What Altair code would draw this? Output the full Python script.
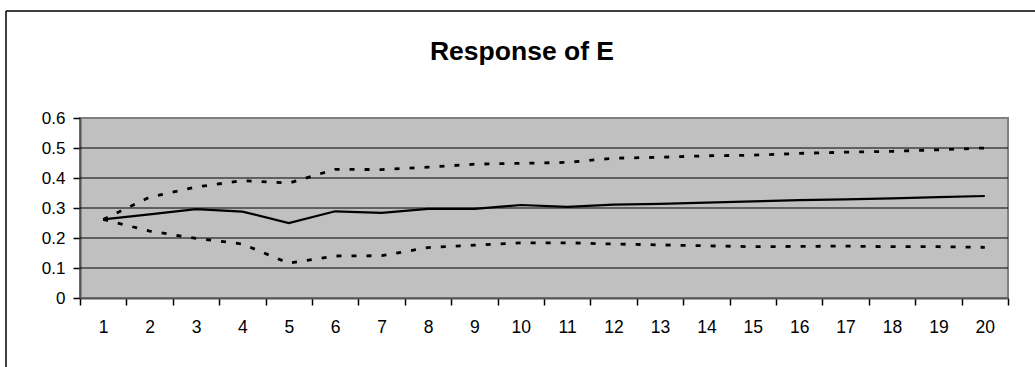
import altair as alt
import pandas as pd

periods = list(range(1, 21))
response = [0.262, 0.279, 0.296, 0.288, 0.250, 0.289, 0.284, 0.297, 0.297, 0.310,
            0.304, 0.311, 0.314, 0.318, 0.322, 0.326, 0.329, 0.332, 0.336, 0.340]
upper = [0.262, 0.336, 0.370, 0.391, 0.383, 0.429, 0.428, 0.436, 0.446, 0.449,
         0.452, 0.466, 0.469, 0.474, 0.476, 0.482, 0.486, 0.489, 0.494, 0.500]
lower = [0.262, 0.223, 0.199, 0.180, 0.116, 0.140, 0.141, 0.168, 0.176, 0.184,
         0.184, 0.180, 0.177, 0.174, 0.171, 0.172, 0.173, 0.171, 0.171, 0.169]
y_ticks = [0, 0.1, 0.2, 0.3, 0.4, 0.5, 0.6]
grid_vals = [0.1, 0.2, 0.3, 0.4, 0.5]

rows = []
for s, vals in (("response", response), ("upper", upper), ("lower", lower)):
    for p, v in zip(periods, vals):
        rows.append({"period": p, "value": v, "series": s})
df = pd.DataFrame(rows)

FONT = "Liberation Sans"

x_enc = alt.X(
    "period:O",
    scale=alt.Scale(type="band", paddingInner=0, paddingOuter=0),
    bandPosition=0.5,
    axis=alt.Axis(
        title=None, labelAngle=0, tickBand="extent", ticks=True, tickSize=7,
        tickColor="#000000", tickWidth=1.5, domainColor="#555555", domainWidth=2,
        labelFontSize=17.5, labelFont=FONT, labelColor="#000000", labelPadding=13,
        grid=False,
    ),
)
y_scale = alt.Scale(domain=[0, 0.6], nice=False, zero=True)
y_axis = alt.Axis(
    title=None, values=y_ticks, format="~g", tickSize=7, tickColor="#000000",
    tickWidth=1.5, domainColor="#555555", domainWidth=2, labelFontSize=17,
    labelFont=FONT, labelColor="#000000", labelPadding=8, grid=False,
)
y_enc = alt.Y("value:Q", scale=y_scale, axis=y_axis)

grid = alt.Chart(pd.DataFrame({"g": grid_vals})).mark_rule(
    color="#000000", strokeWidth=1
).encode(y=alt.Y("g:Q", scale=y_scale, axis=y_axis))

solid = alt.Chart(df[df.series == "response"]).mark_line(
    color="#000000", strokeWidth=2.2
).encode(x=x_enc, y=y_enc)

bands = alt.Chart(df[df.series != "response"]).mark_line(
    color="#000000", strokeWidth=2.8, strokeDash=[5, 10]
).encode(x=x_enc, y=y_enc, detail="series:N")

frame_df = pd.DataFrame({"a": [0]})
border_left = alt.Chart(frame_df).mark_rule(color="#000000", strokeWidth=1.5).encode(
    x=alt.value(-74), y=alt.value(-107), y2=alt.value(400)
)
border_top = alt.Chart(frame_df).mark_rule(color="#000000", strokeWidth=1.5).encode(
    x=alt.value(-74), x2=alt.value(1100), y=alt.value(-107)
)

chart = alt.layer(grid, bands, solid, border_left, border_top).properties(
    width=928,
    height=180,
    title=alt.TitleParams(
        "Response of E", font=FONT, fontSize=26.5, fontWeight="bold", color="#000000",
        anchor="middle", frame="group", baseline="alphabetic", offset=-76, dx=-22,
    ),
    autosize=alt.AutoSizeParams(type="none"),
    padding={"left": 80, "top": 118, "right": 27, "bottom": 69},
).configure_view(
    fill="#C0C0C0", stroke="#808080", strokeWidth=2
)

chart.save("out.html", embed_options={"renderer": "svg", "actions": False})
